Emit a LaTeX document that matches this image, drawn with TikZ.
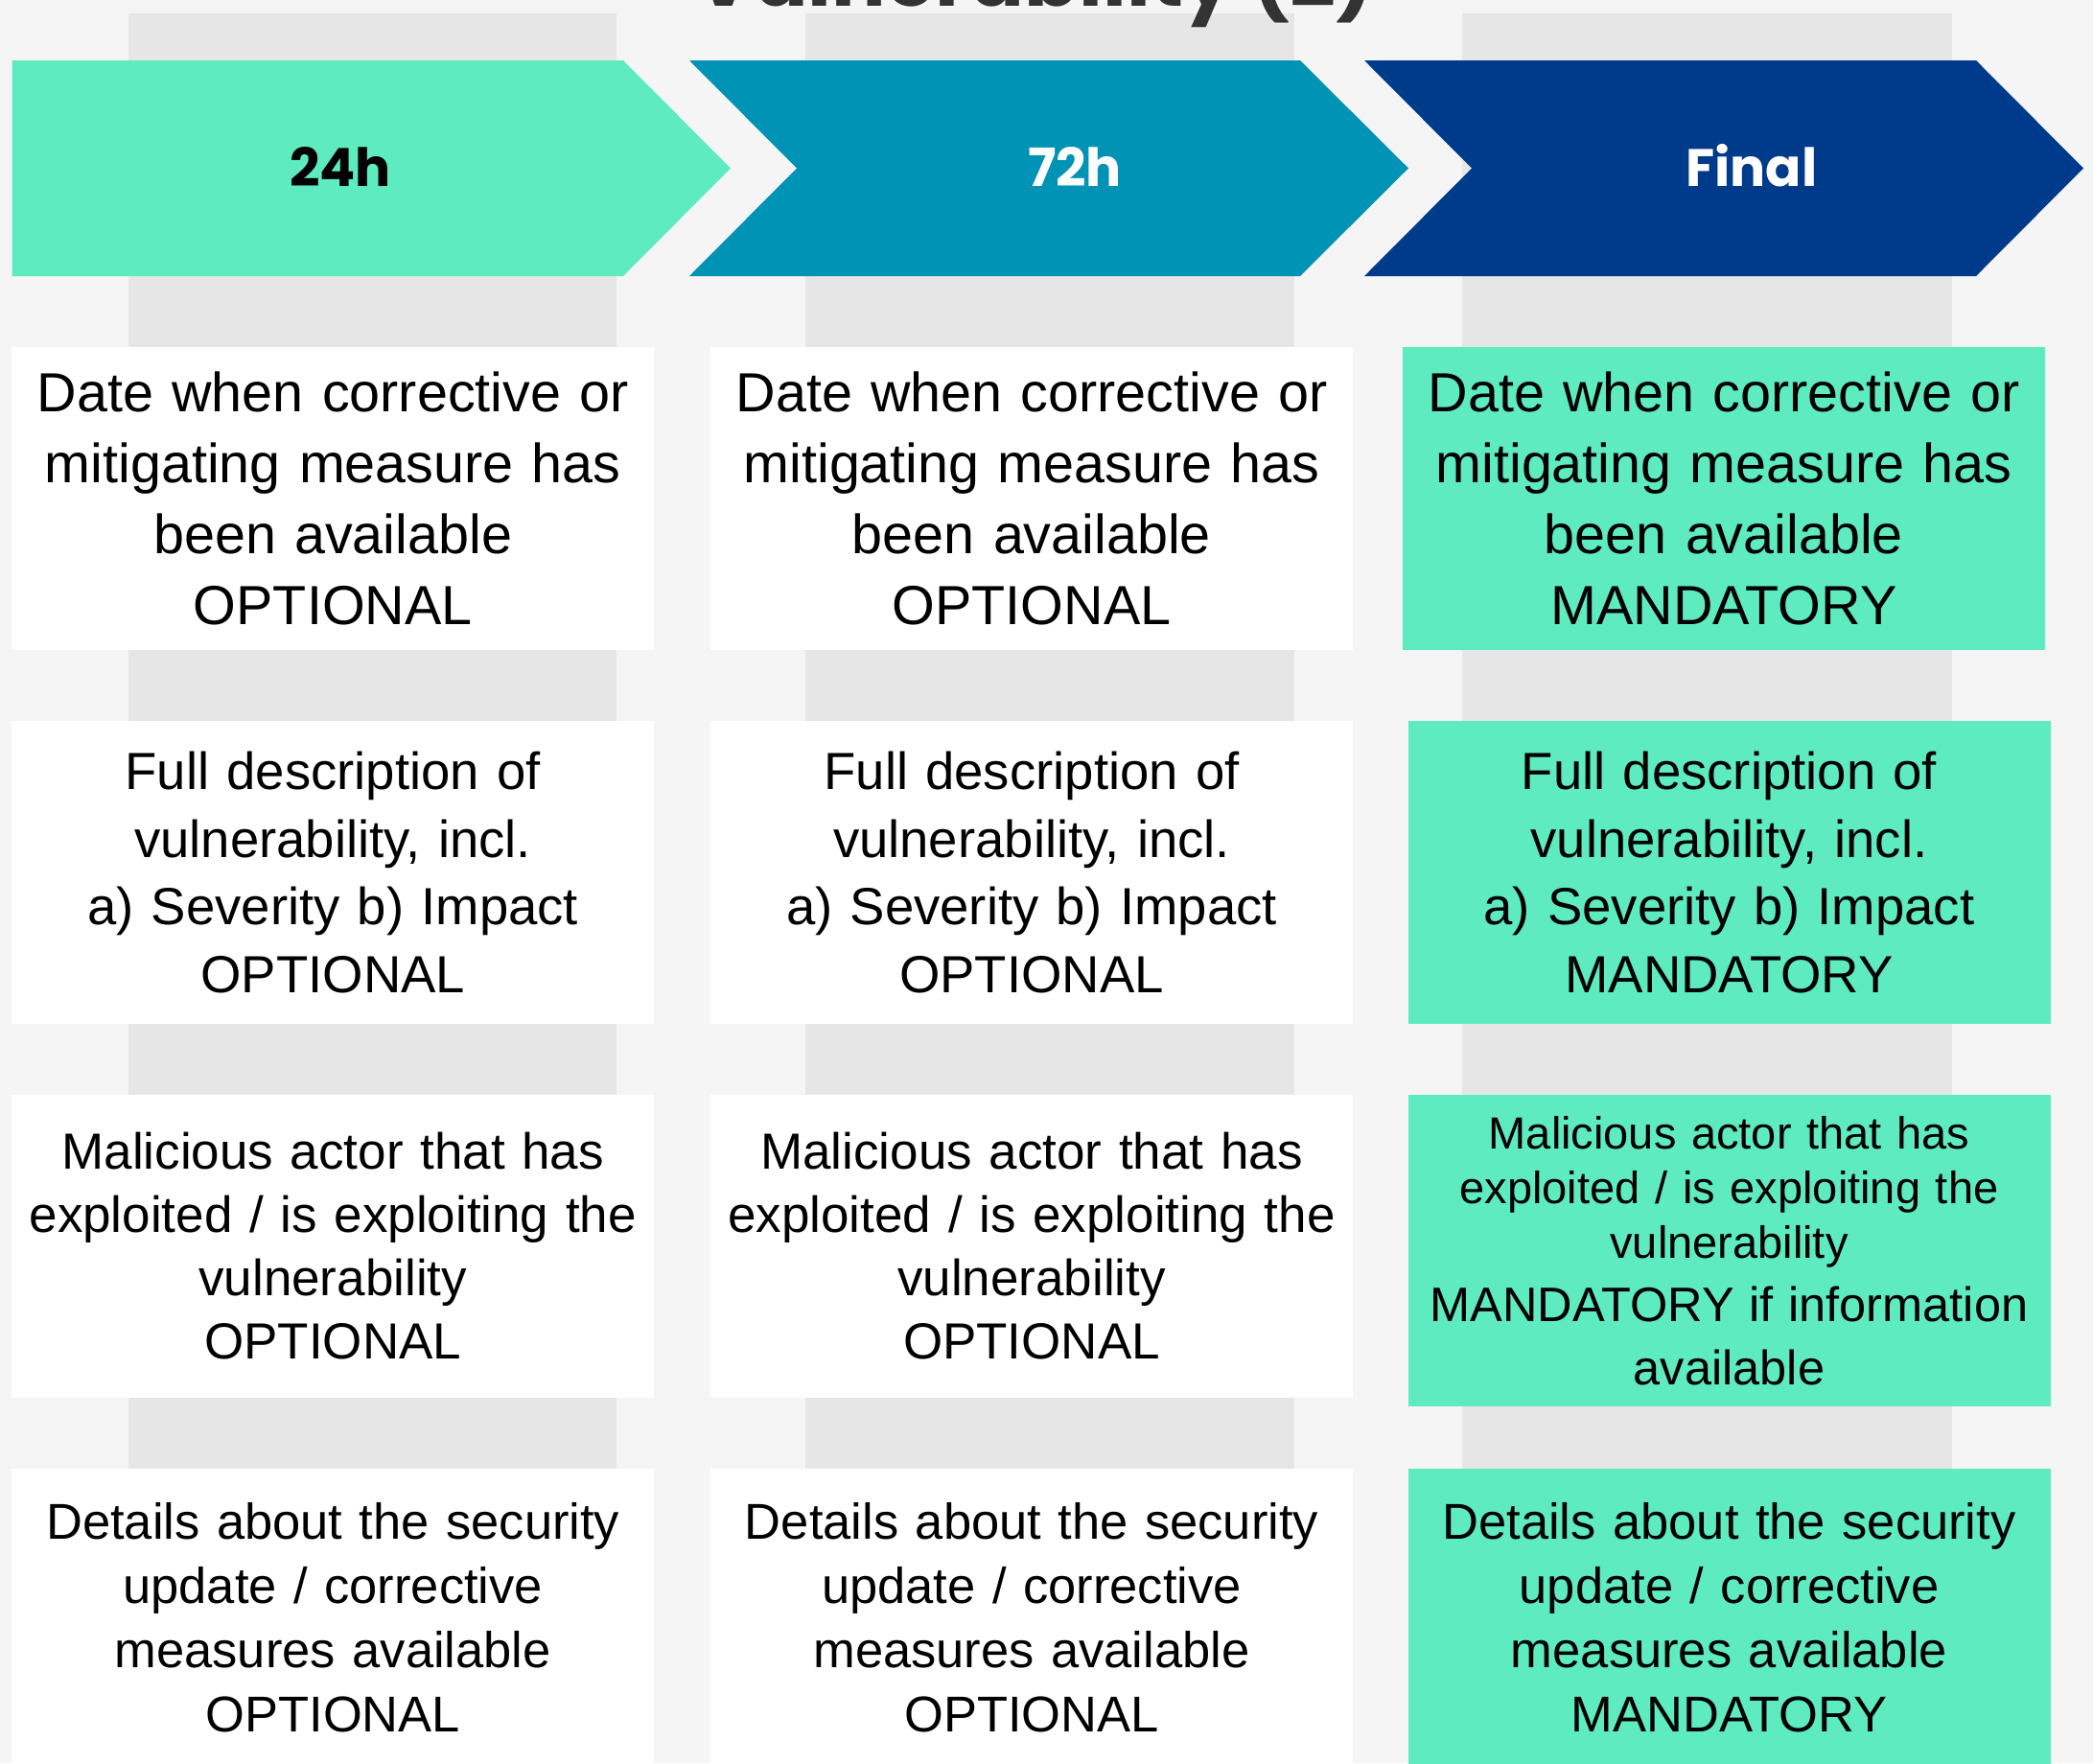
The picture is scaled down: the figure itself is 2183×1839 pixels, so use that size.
\documentclass[tikz,border=0pt]{standalone}
\usepackage{fontspec}
\setmainfont{Liberation Sans}
\newfontfamily\headfont{Poppins}
\setlength{\parindent}{0pt}
\definecolor{bgc}{HTML}{F5F5F5}
\definecolor{colc}{HTML}{E6E6E6}
\definecolor{mint}{HTML}{5EEBC0}
\definecolor{teal}{HTML}{0093B5}
\definecolor{navy}{HTML}{003A8A}
\definecolor{titlec}{HTML}{333333}
\begin{document}
\begin{tikzpicture}[x=1pt,y=-1pt,
  cell/.style={fill=white, minimum width=670pt, minimum height=316pt, inner sep=0pt, text width=664pt, align=center},
  mintcell/.style={cell, fill=mint},
  fa/.style={font=\fontsize{57.5}{74}\selectfont},
  fb/.style={font=\fontsize{54.5}{70.5}\selectfont},
  fc/.style={font=\fontsize{53}{66}\selectfont},
  fd/.style={font=\fontsize{52.5}{67}\selectfont},
  head/.style={anchor=base, inner sep=0pt, font=\headfont\bfseries\fontsize{55}{66}\selectfont}]
\useasboundingbox (0,0) rectangle (2183,1839);
\clip (0,0) rectangle (2183,1839);
\fill[bgc] (0,0) rectangle (2183,1839);
% gray columns
\fill[colc] (134,14) rectangle (643,1839);
\fill[colc] (840,14) rectangle (1350,1839);
\fill[colc] (1525,14) rectangle (2036,1839);
% title (cut off at the top, as in the reference)
\node[anchor=base, inner sep=0pt, text=titlec, font=\headfont\bfseries\fontsize{84}{100}\selectfont] (title) at (1079,6) {Vulnerability (2)};
% header arrows
\fill[mint] (12.5,63) -- (650,63) -- (762,175.5) -- (650,288) -- (12.5,288) -- cycle;
\fill[teal] (719,63) -- (1356,63) -- (1469,175.5) -- (1356,288) -- (719,288) -- (831,175.5) -- cycle;
\fill[navy] (1423,63) -- (2061,63) -- (2173,175.5) -- (2061,288) -- (1423,288) -- (1535,175.5) -- cycle;
\node[head, text=black] (h1) at (355,194) {24h};
\node[head, text=white] (h2) at (1121,194) {72h};
\node[head, text=white] (h3) at (1827,194) {Final};
% row 1
\node[cell, fa] (a1) at (347.25,520) {Date when corrective or\\ mitigating measure has\\ been available\\ OPTIONAL};
\node[cell, fa] (a2) at (1076,520) {Date when corrective or\\ mitigating measure has\\ been available\\ OPTIONAL};
\node[mintcell, fa] (a3) at (1798,520) {Date when corrective or\\ mitigating measure has\\ been available\\ MANDATORY};
% row 2
\node[cell, fb] (b1) at (347.25,910) {Full description of\\ vulnerability, incl.\\ a) Severity b) Impact\\ OPTIONAL};
\node[cell, fb] (b2) at (1076,910) {Full description of\\ vulnerability, incl.\\ a) Severity b) Impact\\ OPTIONAL};
\node[mintcell, fb] (b3) at (1803.5,910) {Full description of\\ vulnerability, incl.\\ a) Severity b) Impact\\ MANDATORY};
% row 3
\node[cell, fc] (c1) at (347.25,1300) {Malicious actor that has\\ exploited / is exploiting the\\ vulnerability\\ OPTIONAL};
\node[cell, fc] (c2) at (1076,1300) {Malicious actor that has\\ exploited / is exploiting the\\ vulnerability\\ OPTIONAL};
\node[mintcell, minimum height=325pt, font=\fontsize{47}{57}\selectfont] (c3) at (1803.5,1304.5) {Malicious actor that has\\ exploited / is exploiting the\\ vulnerability\par\fontsize{50.5}{66}\selectfont MANDATORY if information\\ available\par};
% row 4 (cut off at the bottom)
\node[cell, fd, minimum height=310pt] (d1) at (347.25,1687) {Details about the security\\ update / corrective\\ measures available\\ OPTIONAL};
\node[cell, fd, minimum height=310pt] (d2) at (1076,1687) {Details about the security\\ update / corrective\\ measures available\\ OPTIONAL};
\node[mintcell, fd, minimum height=310pt] (d3) at (1803.5,1687) {Details about the security\\ update / corrective\\ measures available\\ MANDATORY};
\end{tikzpicture}
\end{document}
